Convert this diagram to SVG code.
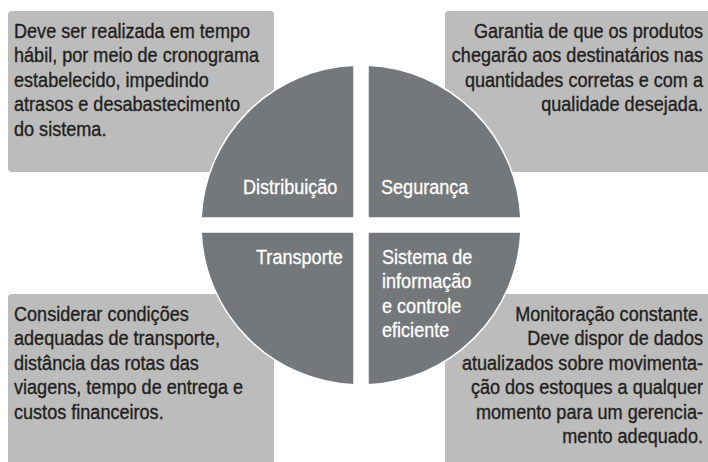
<svg xmlns="http://www.w3.org/2000/svg" width="708" height="462" viewBox="0 0 708 462">
<style>
.box{fill:#bcbcbc}
.q{fill:#75787b;stroke:#ffffff;stroke-width:1.5}
.t{font-family:"Liberation Sans",Arial,sans-serif;font-size:19.5px;fill:#231f20;stroke:#231f20;stroke-width:0.35}
.w{font-family:"Liberation Sans",Arial,sans-serif;font-size:19.5px;fill:#ffffff;stroke:#ffffff;stroke-width:0.3}
.e{text-anchor:end}
</style>
<rect width="708" height="462" fill="#ffffff"/>
<g id="box-distribuicao">
<rect class="box" x="8" y="11" width="266" height="161" rx="4"/>
<text class="t" transform="translate(14,38) scale(0.927,1)"><tspan x="0" y="0">Deve ser realizada em tempo</tspan><tspan x="0" dy="24.5">hábil, por meio de cronograma</tspan><tspan x="0" dy="24.5">estabelecido, impedindo</tspan><tspan x="0" dy="24.5">atrasos e desabastecimento</tspan><tspan x="0" dy="24.5">do sistema.</tspan></text>
</g>
<g id="box-seguranca">
<rect class="box" x="445" y="11" width="273" height="161" rx="4"/>
<text class="t e" transform="translate(703,38) scale(0.927,1)"><tspan x="0" y="0">Garantia de que os produtos</tspan><tspan x="0" dy="24.5">chegarão aos destinatários nas</tspan><tspan x="0" dy="24.5">quantidades corretas e com a</tspan><tspan x="0" dy="24.5">qualidade desejada.</tspan></text>
</g>
<g id="box-transporte">
<rect class="box" x="8" y="294" width="266" height="178" rx="4"/>
<text class="t" transform="translate(14,321) scale(0.927,1)"><tspan x="0" y="0">Considerar condições</tspan><tspan x="0" dy="24.5">adequadas de transporte,</tspan><tspan x="0" dy="24.5">distância das rotas das</tspan><tspan x="0" dy="24.5">viagens, tempo de entrega e</tspan><tspan x="0" dy="24.5">custos financeiros.</tspan></text>
</g>
<g id="box-sistema">
<rect class="box" x="445" y="294" width="273" height="178" rx="4"/>
<text class="t e" transform="translate(703,321) scale(0.927,1)"><tspan x="0" y="0">Monitoração constante.</tspan><tspan x="0" dy="24.5">Deve dispor de dados</tspan><tspan x="0" dy="24.5">atualizados sobre movimenta-</tspan><tspan x="0" dy="24.5">ção dos estoques a qualquer</tspan><tspan x="0" dy="24.5">momento para um gerencia-</tspan><tspan x="0" dy="24.5">mento adequado.</tspan></text>
</g>
<g id="q-distribuicao">
<path class="q" d="M354,218 L201.15,218 A160,160 0 0 1 354,65.15 Z"/>
<text class="w" transform="translate(243,194) scale(0.927,1)">Distribuição</text>
</g>
<g id="q-seguranca">
<path class="q" d="M368,218 L368,65.15 A160,160 0 0 1 520.85,218 Z"/>
<text class="w" transform="translate(381,194) scale(0.927,1)">Segurança</text>
</g>
<g id="q-transporte">
<path class="q" d="M354,232 L354,384.85 A160,160 0 0 1 201.15,232 Z"/>
<text class="w" transform="translate(256,264) scale(0.927,1)">Transporte</text>
</g>
<g id="q-sistema">
<path class="q" d="M368,232 L520.85,232 A160,160 0 0 1 368,384.85 Z"/>
<text class="w" transform="translate(382,264) scale(0.927,1)"><tspan x="0" y="0">Sistema de</tspan><tspan x="0" dy="24.5">informação</tspan><tspan x="0" dy="24.5">e controle</tspan><tspan x="0" dy="24.5">eficiente</tspan></text>
</g>
<g id="connectors"/>
</svg>
